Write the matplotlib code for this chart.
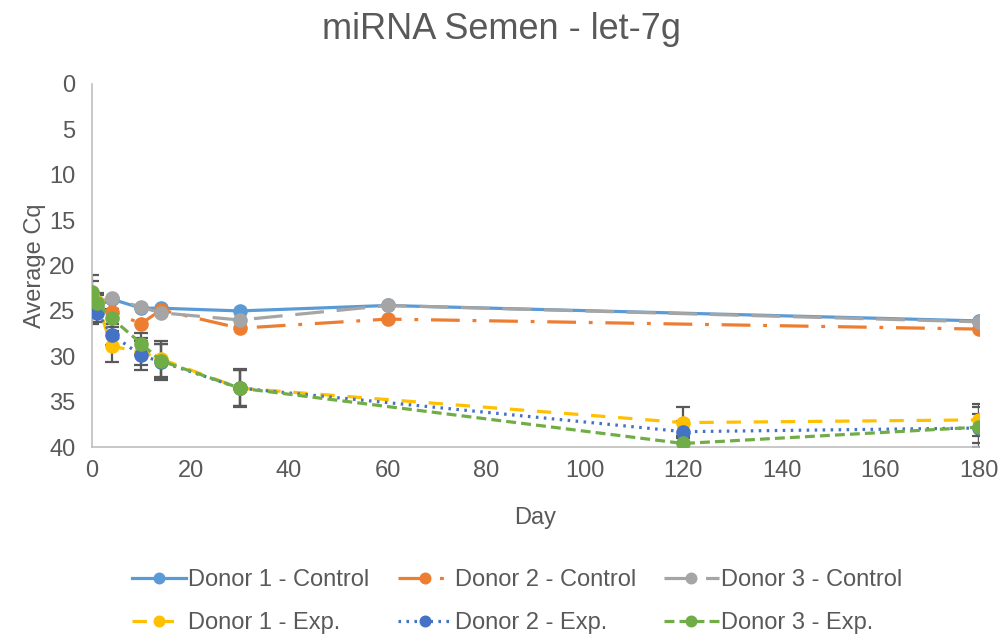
import numpy as np
import matplotlib
matplotlib.use("Agg")
import matplotlib.pyplot as plt

plt.rcParams['font.family'] = ['Liberation Sans', 'DejaVu Sans']

# control samples
days_ctrl = [0, 1, 4, 10, 14, 30, 60, 180]
d1_ctrl = [24.2, 24.5, 23.7, 24.7, 24.7, 25.0, 24.4, 26.1]
d2_ctrl = [24.5, 24.8, 25.1, 26.4, 24.9, 26.9, 25.9, 27.0]
d3_ctrl = [23.6, 24.0, 23.6, 24.6, 25.2, 26.0, 24.4, 26.2]

# experimental samples
days_exp = [0, 1, 4, 10, 14, 30, 120, 180]
d1_exp = [23.2, 24.0, 28.9, 29.5, 30.3, 33.5, 37.3, 37.0]
d2_exp = [24.6, 25.2, 27.6, 29.9, 30.6, 33.5, 38.3, 37.9]
d3_exp = [22.9, 24.1, 25.8, 28.6, 30.5, 33.5, 39.6, 37.8]
d1_exp_err = [2.2, 1.0, 1.7, 1.5, 2.0, 2.0, 1.7, 1.8]
d2_exp_err = [1.8, 1.0, 1.2, 1.6, 2.0, 2.1, 1.2, 1.6]
d3_exp_err = [1.2, 0.8, 1.0, 1.2, 1.9, 2.0, 0.8, 2.2]

labels = ['Donor 1 - Control', 'Donor 2 - Control', 'Donor 3 - Control',
          'Donor 1 - Exp.', 'Donor 2 - Exp.', 'Donor 3 - Exp.']

txt = '#595959'
fig = plt.figure(figsize=(10.02, 6.36), dpi=100)
ax = fig.add_axes([0.0918, 0.297, 0.885, 0.571])

lw = 2.3
ms = 9.5
h = {}
h[0], = ax.plot(days_ctrl, d1_ctrl, color='#5B9BD5', lw=lw, marker='o', ms=ms, label=labels[0])
h[1], = ax.plot(days_ctrl, d2_ctrl, color='#ED7D31', lw=lw, marker='o', ms=ms,
                dashes=(9, 4, 1.2, 4), label=labels[1])
h[2], = ax.plot(days_ctrl, d3_ctrl, color='#A5A5A5', lw=lw, marker='o', ms=ms,
                dashes=(9, 4), label=labels[2])

series = [(d1_exp, d1_exp_err, '#FFC000', (4.5, 4)),
          (d2_exp, d2_exp_err, '#4472C4', (0.8, 1.7)),
          (d3_exp, d3_exp_err, '#70AD47', (3.1, 1.6))]
for i, (vals, err, col, ds) in enumerate(series):
    ax.errorbar(days_exp, vals, yerr=err, fmt='none', ecolor='#595959',
                elinewidth=1.6, capsize=5, capthick=1.6, zorder=1)
    h[3 + i], = ax.plot(days_exp, vals, color=col, lw=lw, marker='o', ms=ms,
                        dashes=ds, label=labels[3 + i], zorder=3)

ax.set_xlim(0, 180)
ax.set_ylim(40, 0)
ax.set_xticks(np.arange(0, 181, 20))
ax.set_yticks(np.arange(0, 41, 5))
for s in ['top', 'right']:
    ax.spines[s].set_visible(False)
for s in ['left', 'bottom']:
    ax.spines[s].set_color('#BFBFBF')
    ax.spines[s].set_linewidth(1.2)
ax.tick_params(length=0, labelsize=17, colors=txt)
ax.tick_params(axis='y', pad=12)
ax.tick_params(axis='x', pad=9)

ax.set_xlabel('Day', fontsize=17, color=txt, labelpad=18)
ax.set_ylabel('Average Cq', fontsize=17, color=txt, labelpad=2)
fig.suptitle('miRNA Semen - let-7g', fontsize=26, color=txt, x=0.5, y=0.953, va='center')

order = [0, 3, 1, 4, 2, 5]
leg = fig.legend([h[k] for k in order], [labels[k] for k in order],
                 loc='lower center', bbox_to_anchor=(0.516, -0.031), ncol=3,
                 frameon=False, fontsize=17, handlelength=2.3, handletextpad=0.1,
                 columnspacing=1.2, labelspacing=0.9, markerscale=0.8)
for t in leg.get_texts():
    t.set_color(txt)

fig.savefig('out.png', dpi=100)
